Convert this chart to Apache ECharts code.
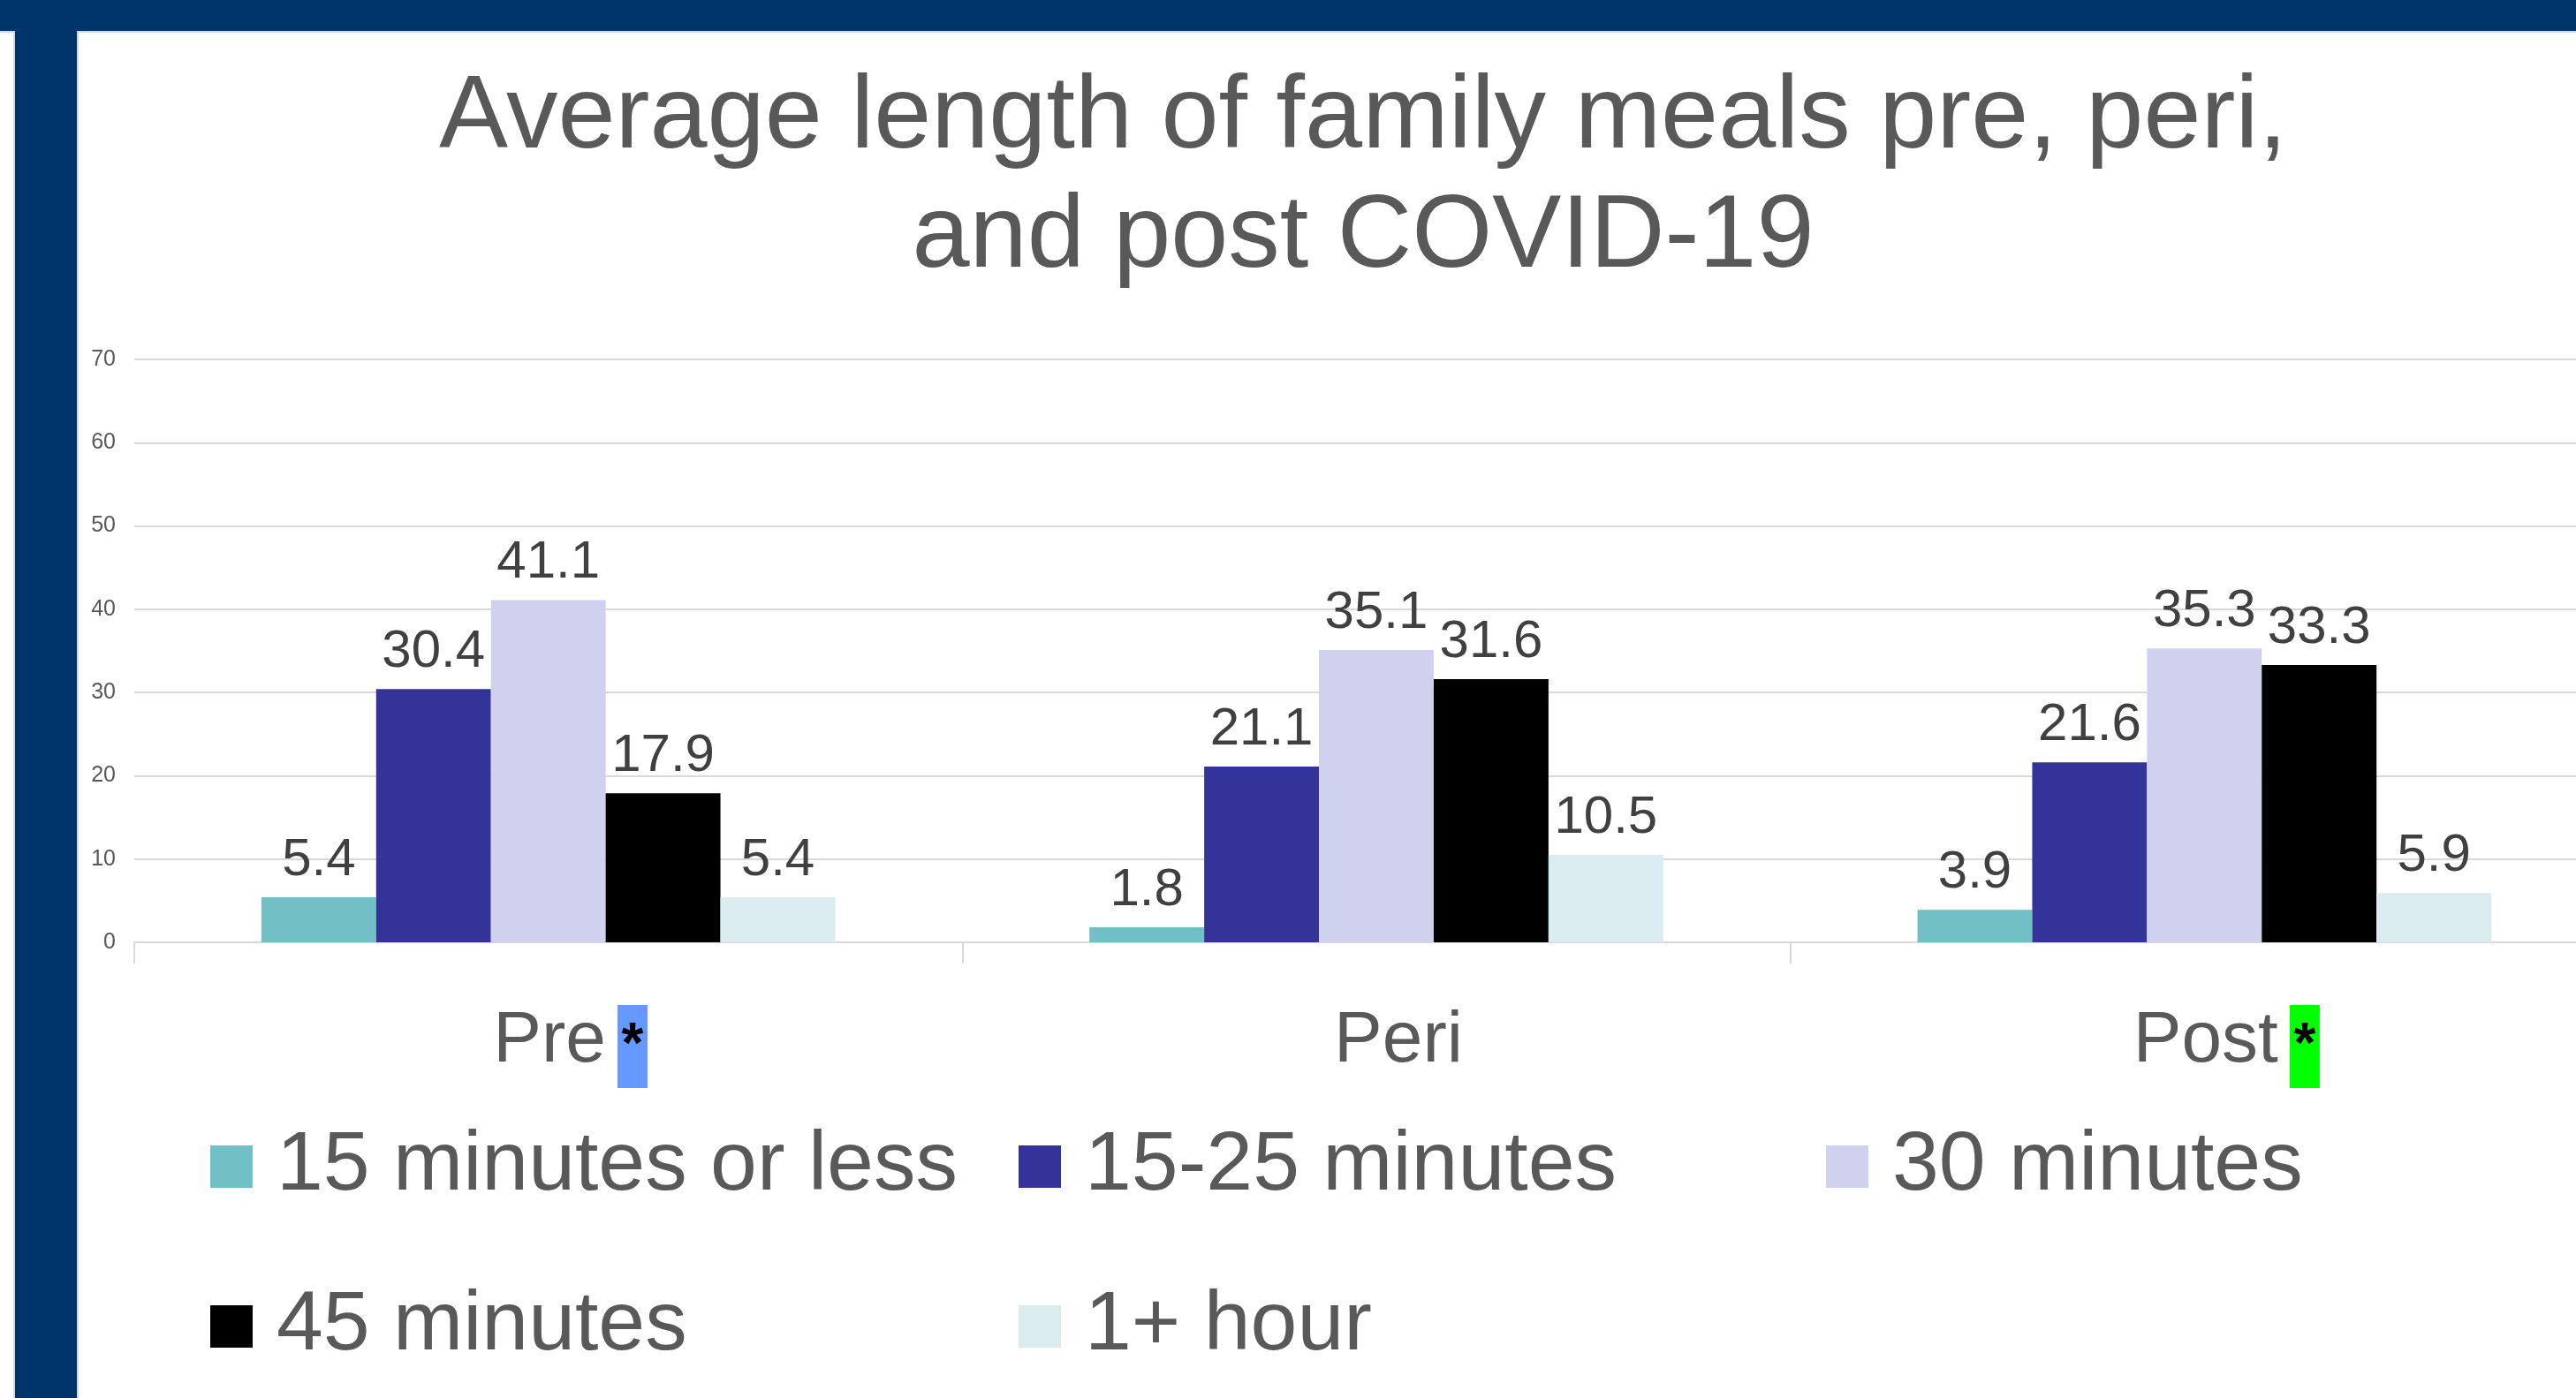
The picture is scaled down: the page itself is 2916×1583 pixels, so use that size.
<!DOCTYPE html>
<html>
<head>
<meta charset="utf-8">
<title>Average length of family meals</title>
<script src="https://cdn.jsdelivr.net/npm/echarts@6/dist/echarts.min.js"></script>
<style>
  html, body { margin: 0; padding: 0; background: #fff; }
  #chart { width: 2916px; height: 1583px; }
</style>
</head>
<body>
<div id="chart"></div>
<script>
const categories = ['Pre', 'Peri', 'Post'];
// highlight colour behind the asterisk on each period, null = no asterisk
const starMarks = ['#6699ff', null, '#00ff00'];

const seriesNames = ['15 minutes or less', '15-25 minutes', '30 minutes', '45 minutes', '1+ hour'];
const shortMeals = [5.4, 1.8, 3.9];
const midMeals = [30.4, 21.1, 21.6];
const halfHourMeals = [41.1, 35.1, 35.3];
const threeQuarterMeals = [17.9, 31.6, 33.3];
const hourMeals = [5.4, 10.5, 5.9];
const yTicks = [0, 10, 20, 30, 40, 50, 60, 70];

const colors = ['#72bfc5', '#333399', '#d0d1ee', '#000000', '#daecef'];
const font = '"Liberation Sans", Arial, sans-serif';

const chart = echarts.init(document.getElementById('chart'));

const makeSeries = (name, data, color) => ({
  name,
  type: 'bar',
  data,
  barGap: '0%',
  barCategoryGap: '30.7%',
  itemStyle: { color },
  label: {
    show: true,
    position: 'top',
    distance: 12,
    fontFamily: font,
    fontSize: 60,
    lineHeight: 60,
    color: '#404040',
    formatter: (p) => p.value.toFixed(1),
  },
});

const legendSpots = [
  { left: 238, top: 1271 },
  { left: 1153, top: 1271 },
  { left: 2067, top: 1271 },
  { left: 238, top: 1452 },
  { left: 1153, top: 1452 },
];

const legends = seriesNames.map((name, i) => ({
  data: [name],
  left: legendSpots[i].left,
  top: legendSpots[i].top,
  padding: 0,
  itemWidth: 48,
  itemHeight: 48,
  icon: 'rect',
  textStyle: {
    fontFamily: font,
    fontSize: 95,
    lineHeight: 100,
    color: '#595959',
    padding: [0, 0, 0, 22],
  },
}));

const starStyle = (bg) => ({
  fontFamily: font,
  fontSize: 64,
  fontWeight: 'bold',
  color: '#000',
  backgroundColor: bg,
  width: 34,
  height: 94,
  align: 'center',
  verticalAlign: 'top',
});

const option = {
  animation: false,
  backgroundColor: '#ffffff',
  title: {
    text: 'Average length of family meals pre, peri,\nand post COVID-19',
    left: 1538,
    top: 62,
    textAlign: 'center',
    textStyle: {
      fontFamily: font,
      fontSize: 117,
      lineHeight: 135,
      fontWeight: 'normal',
      color: '#595959',
    },
  },
  legend: legends,
  // the plot runs past the right edge of the slide, as in the original
  grid: {
    left: 152,
    width: 2812,
    top: 407,
    height: 660,
    containLabel: false,
    outerBoundsMode: 'none',
  },
  xAxis: {
    type: 'category',
    data: categories,
    axisLine: { lineStyle: { color: '#d9d9d9', width: 2 } },
    axisTick: { show: true, length: 24, lineStyle: { color: '#d9d9d9', width: 2 } },
    axisLabel: {
      margin: 71,
      padding: [0, 0, 0, 50],
      formatter: (value, idx) => {
        const mark = starMarks[idx];
        return mark ? `{t|${value}}{g|}{s${idx}|*}` : `{t|${value}}`;
      },
      rich: {
        t: { fontFamily: font, fontSize: 82, lineHeight: 64, color: '#595959', verticalAlign: 'top' },
        g: { width: 13, height: 10, verticalAlign: 'top' },
        s0: starStyle(starMarks[0]),
        s2: starStyle(starMarks[2]),
      },
    },
  },
  yAxis: {
    type: 'value',
    min: yTicks[0],
    max: yTicks[yTicks.length - 1],
    interval: 10,
    axisLine: { show: false },
    axisTick: { show: false },
    splitLine: { lineStyle: { color: '#d9d9d9', width: 2 } },
    axisLabel: { margin: 21, fontFamily: font, fontSize: 25, color: '#595959' },
  },
  series: [
    makeSeries(seriesNames[0], shortMeals, colors[0]),
    makeSeries(seriesNames[1], midMeals, colors[1]),
    makeSeries(seriesNames[2], halfHourMeals, colors[2]),
    makeSeries(seriesNames[3], threeQuarterMeals, colors[3]),
    makeSeries(seriesNames[4], hourMeals, colors[4]),
  ],
  graphic: [
    // slide frame: navy bar on top and down the left side
    { type: 'rect', shape: { x: 0, y: 34, width: 2916, height: 3 }, style: { fill: '#d6d6d6' }, silent: true },
    { type: 'rect', shape: { x: 15, y: 34, width: 74, height: 1549 }, style: { fill: '#d6d6d6' }, silent: true },
    { type: 'rect', shape: { x: 0, y: 0, width: 2916, height: 35 }, style: { fill: '#00356b' }, silent: true },
    { type: 'rect', shape: { x: 17, y: 35, width: 70, height: 1548 }, style: { fill: '#00356b' }, silent: true },
  ],
};

chart.setOption(option);
</script>
</body>
</html>
